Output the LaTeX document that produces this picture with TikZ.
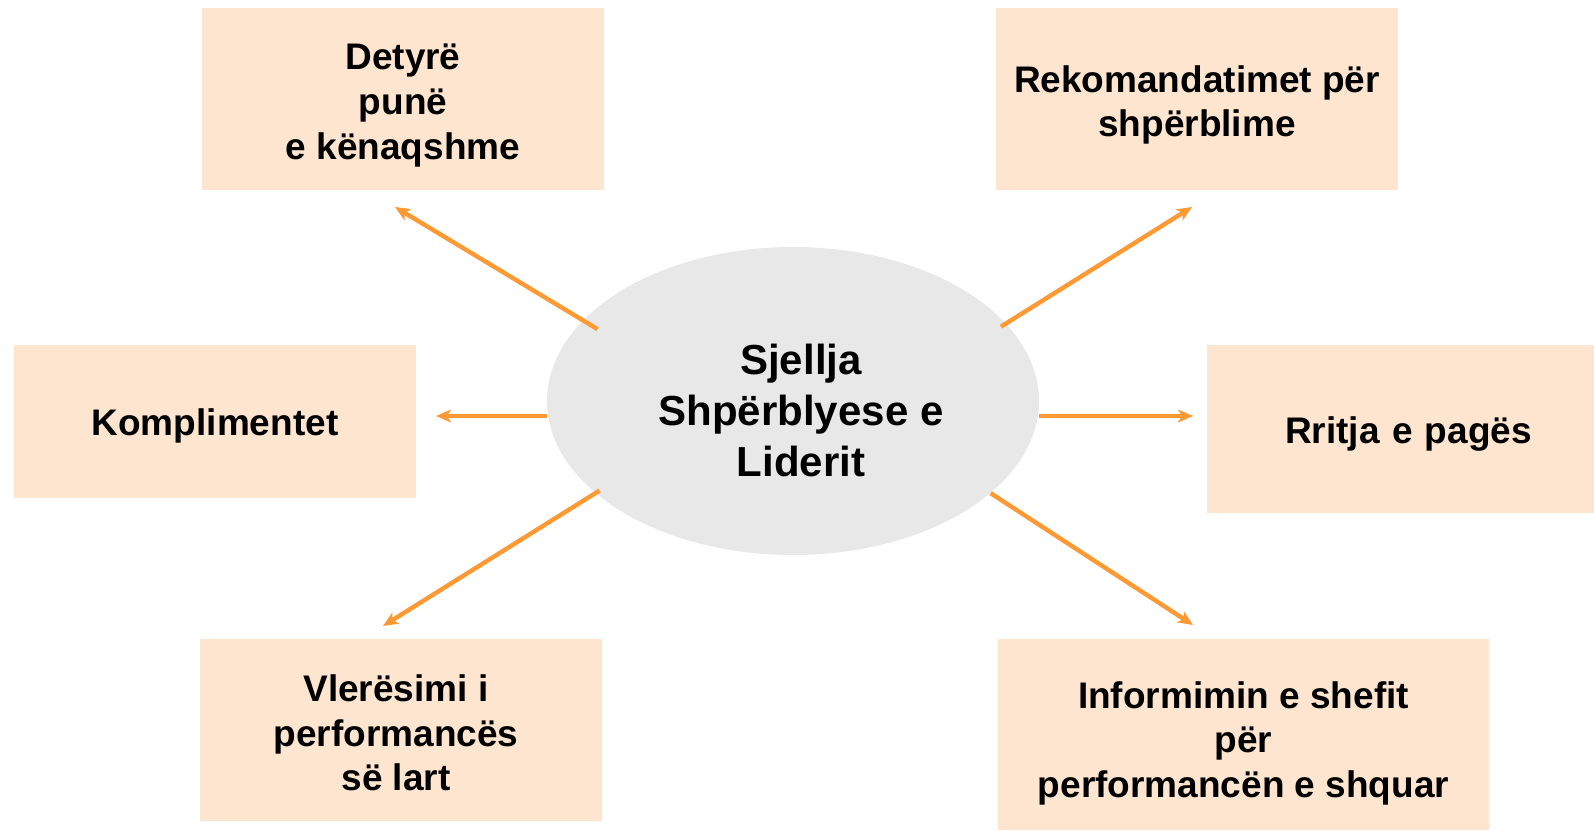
\documentclass[tikz,border=0pt]{standalone}
\usepackage{fontspec}
\setmainfont{Liberation Sans}
\usetikzlibrary{arrows.meta,shapes.geometric}
\definecolor{peach}{RGB}{253,229,208}
\definecolor{arr}{RGB}{255,153,51}
\definecolor{ell}{RGB}{232,232,232}
\newcommand\topstrut[1]{\rule{0pt}{#1}}
\begin{document}
\begin{tikzpicture}[x=0.5pt,y=-0.5pt,
  box/.style={fill=peach,draw=none,inner sep=0pt,align=center,font=\fontsize{18.5}{22.4}\selectfont\bfseries},
  conn/.style={draw=arr,line width=2.2pt,-{Stealth[length=7.5pt,width=6.5pt,inset=2pt]}}]
\useasboundingbox (0,0) rectangle (1594,830);
\node[box,minimum width=201pt,minimum height=91pt] (tl) at (403,99) {\topstrut{19.3pt}Detyrë\\punë\\e kënaqshme};
\node[box,minimum width=201pt,minimum height=91pt] (tr) at (1197,99) {\topstrut{19.3pt}Rekomandatimet për\\shpërblime};
\node[box,minimum width=201pt,minimum height=76.5pt] (l) at (215,421.5) {\topstrut{18.3pt}Komplimentet};
\node[box,minimum width=193.5pt,minimum height=84pt,text width=193.5pt] (r) at (1400.5,429) {\topstrut{18.3pt}\hspace*{8pt}Rritja e pagës};
\node[box,minimum width=201pt,minimum height=91pt] (bl) at (401,730) {\topstrut{16.3pt}\hspace*{-5pt}Vlerësimi i\\\hspace*{-5pt}performancës\\\hspace*{-5pt}së lart};
\node[box,minimum width=245.5pt,minimum height=95.5pt] (br) at (1243.5,734.5) {\topstrut{22.3pt}Informimin e shefit\\për\\performancën e shquar};
\node[ellipse,fill=ell,draw=none,inner sep=0pt,minimum width=246pt,minimum height=154pt] (c) at (793,401) {};
\node[align=center,inner sep=0pt,font=\fontsize{21}{25.5}\selectfont\bfseries] (ct) at (801,410) {Sjellja\\Shpërblyese e\\Liderit};
\coordinate (ttl) at (395,207);
\coordinate (tl2) at (436,416);
\coordinate (ttr) at (1192,207);
\coordinate (tr2) at (1193,416);
\coordinate (tbl) at (383,626);
\coordinate (tbr) at (1193,625);
\draw[conn,shorten <=-8.5pt] (c.159) -- (ttl);
\draw[conn] (c.183.5 |- tl2) -- (tl2);
\draw[conn,shorten <=-3pt] (c.20.2) -- (ttr);
\draw[conn] (c.-3.5 |- tr2) -- (tr2);
\draw[conn,shorten <=-2.5pt] (c.205.2) -- (tbl);
\draw[conn] (c.-25) -- (tbr);
\end{tikzpicture}
\end{document}
